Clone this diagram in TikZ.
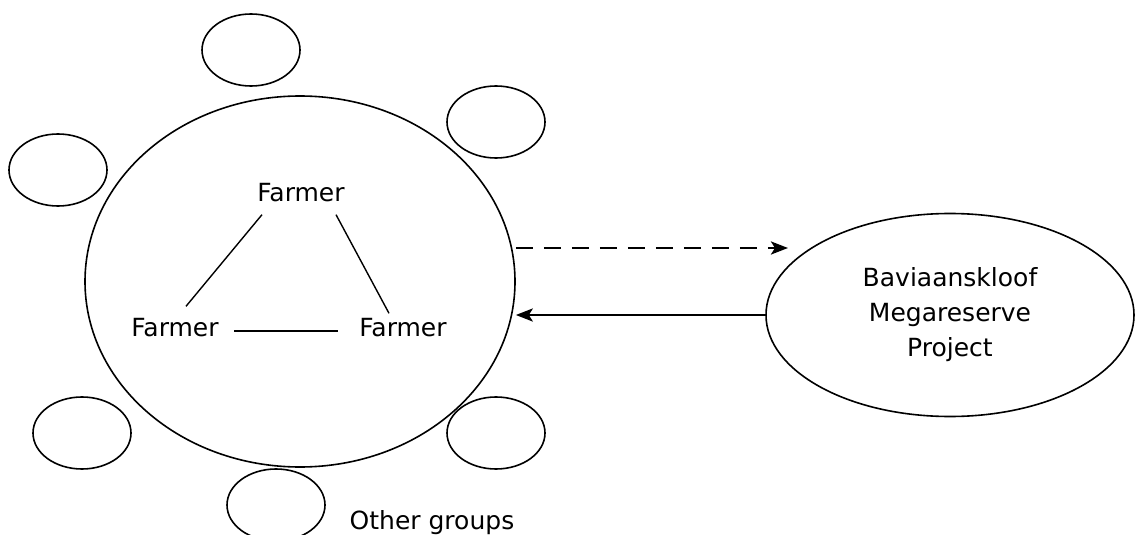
\documentclass[tikz,border=0pt]{standalone}
\usepackage{fontspec}
\setmainfont{DejaVu Sans}
\usepackage{tikz}
\usetikzlibrary{arrows.meta, shapes.geometric}

\begin{document}
\begin{tikzpicture}[x=0.5pt, y=-0.5pt, font=\fontsize{12.5}{17.5}\selectfont,
        other/.style={draw, ellipse, line width=0.8pt, inner sep=0pt, minimum width=49pt, minimum height=36pt},
        farmer/.style={inner sep=0pt},
        link/.style={line width=0.7pt},
        flow/.style={line width=1.4pt, -{Stealth[length=8.5pt, width=6.5pt, inset=2pt]}}]
        \useasboundingbox (0, 0) rectangle (1135, 535);
        \clip (0, 0) rectangle (1135, 535);

        \node (0) at (300, 281.5)[draw, ellipse, line width=0.8pt, inner sep=0pt, minimum width=215pt, minimum height=185.5pt] {};

        \node (1) at (301, 193)[farmer] {Farmer};
        \node (2) at (175, 328)[farmer] {Farmer};
        \node (3) at (403, 328)[farmer] {Farmer};

        \draw[link] ([shift={(2.5pt, -6pt)}]1.south west) -- ([shift={(5.5pt, 6pt)}]2.north);
        \draw[link] ([shift={(-4.5pt, -6pt)}]1.south east) -- ([shift={(-7pt, 2.5pt)}]3.north);
        \draw[link] ([shift={(7.5pt, -1.5pt)}]2.east) -- ([shift={(-10.5pt, -1.5pt)}]3.west);

        \node (g1) at (251, 50)[other] {};
        \node (g2) at (496, 122)[other] {};
        \node (g3) at (58, 170)[other] {};
        \node (g4) at (82, 433)[other] {};
        \node (g5) at (496, 433)[other] {};
        \node (g6) at (276, 505)[other] {};
        \node (7) at (432, 523)[inner sep=0pt] {Other groups};

        \node (4) at (950, 315)[draw, ellipse, line width=0.8pt, inner sep=0pt, minimum width=184pt, minimum height=101.5pt, align=center] {Baviaanskloof\\Megareserve\\Project};

        \coordinate (tip) at (788, 248);
        \draw[flow, dash pattern=on 8.5pt off 5.5pt] (0.east |- tip) -- (tip);
        \draw[flow] (4.west) -- (0.east |- 4.west);
    \end{tikzpicture}
\end{document}
